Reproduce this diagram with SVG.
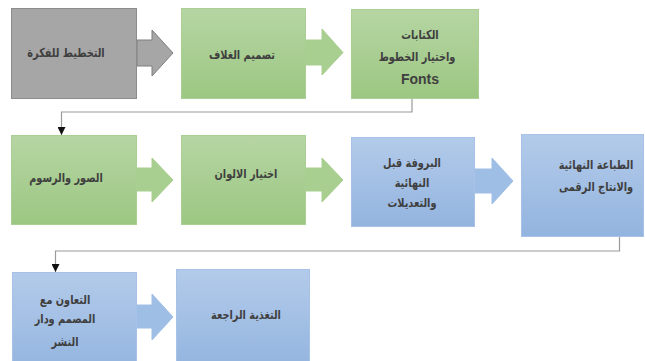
<svg xmlns="http://www.w3.org/2000/svg" width="645" height="361" viewBox="0 0 645 361">
<defs>
<linearGradient id="gGreen" x1="0" y1="0" x2="0" y2="1">
<stop offset="0" stop-color="#b6d5a3"/>
<stop offset="1" stop-color="#9cc782"/>
</linearGradient>
<linearGradient id="gBlue" x1="0" y1="0" x2="0" y2="1">
<stop offset="0" stop-color="#b3cbea"/>
<stop offset="1" stop-color="#93b4df"/>
</linearGradient>
<marker id="ah" viewBox="0 0 8 8" refX="8" refY="4" markerWidth="8" markerHeight="8" orient="auto" markerUnits="userSpaceOnUse">
<path d="M0,0 L8,4 L0,8 Z" fill="#111"/>
</marker>
<style>
.gray{fill:#a6a6a6;stroke:#8c8c8c;stroke-width:1}
.green{fill:url(#gGreen);stroke:#a9cf94;stroke-width:1}
.blue{fill:url(#gBlue);stroke:#a7c2e6;stroke-width:1}
.agray{fill:#a6a6a6;stroke:#7f7f7f;stroke-width:1}
.agreen{fill:#a8cf8f;stroke:#a8cf8f;stroke-width:1}
.ablue{fill:#9fbee6;stroke:#9fbee6;stroke-width:1}
.t{font-family:"DejaVu Sans",sans-serif;font-weight:bold;font-size:12.5px;fill:#3f3f3f;text-anchor:middle;direction:rtl}
.tl{font-family:"Liberation Sans",Arial,sans-serif;font-weight:bold;font-size:14px;fill:#3f3f3f;text-anchor:middle}
.c{fill:none;stroke:#9a9a9a;stroke-width:1.2}
</style>
</defs>

<g id="arrows">
<polygon class="agray" points="137,40 152,40 152,30 173,53 152,76 152,66 137,66"/>
<polygon class="agreen" points="306,40 322,40 322,29 343,52.5 322,75 322,65 306,65"/>
<polygon class="agreen" points="137,168 152,168 152,158 173,180 152,202 152,191 137,191"/>
<polygon class="agreen" points="306,168 322,168 322,158 343,180 322,202 322,191 306,191"/>
<polygon class="ablue" points="475,169 492,169 492,158 513,181 492,204 492,193 475,193"/>
<polygon class="ablue" points="137,305 152,305 152,294 173,317 152,340 152,328 137,328"/>
</g>

<g id="n1"><rect class="gray" x="11.5" y="8.5" width="125" height="90"/>
<text class="t" transform="matrix(0.78 0 0 1 66 57)">التخطيط للفكرة</text></g>

<g id="n2"><rect class="green" x="181.5" y="8.5" width="124" height="90"/>
<text class="t" transform="matrix(0.78 0 0 1 242 59)">تصميم الغلاف</text></g>

<g id="n3"><rect class="green" x="351.5" y="9.5" width="127" height="89"/>
<text class="t" transform="matrix(0.78 0 0 1 420 39)">الكتابات</text>
<text class="t" transform="matrix(0.78 0 0 1 417 61)">واختيار الخطوط</text>
<text class="tl" x="420" y="84">Fonts</text></g>

<g id="n4"><rect class="green" x="11.5" y="135.5" width="125" height="89"/>
<text class="t" transform="matrix(0.78 0 0 1 66 182)">الصور والرسوم</text></g>

<g id="n5"><rect class="green" x="181.5" y="135.5" width="124" height="89"/>
<text class="t" transform="matrix(0.78 0 0 1 246 178)">اختيار الالوان</text></g>

<g id="n6"><rect class="blue" x="351.5" y="137.5" width="123" height="89"/>
<text class="t" transform="matrix(0.78 0 0 1 412 167)">البروفة قبل</text>
<text class="t" transform="matrix(0.78 0 0 1 412 187)">النهائية</text>
<text class="t" transform="matrix(0.78 0 0 1 412 207)">والتعديلات</text></g>

<g id="n7"><rect class="blue" x="521.5" y="134.5" width="122" height="102"/>
<text class="t" transform="matrix(0.78 0 0 1 596 169)">الطباعة النهائية</text>
<text class="t" transform="matrix(0.78 0 0 1 596 191)">والانتاج الرقمى</text></g>

<g id="n8"><rect class="blue" x="12.5" y="272.5" width="124" height="100"/>
<text class="t" transform="matrix(0.78 0 0 1 65 304)">التعاون مع</text>
<text class="t" transform="matrix(0.78 0 0 1 65 323)">المصمم ودار</text>
<text class="t" transform="matrix(0.78 0 0 1 65 346)">النشر</text></g>

<g id="n9"><rect class="blue" x="176.5" y="269.5" width="133" height="100"/>
<text class="t" transform="matrix(0.78 0 0 1 246 319)">التغذية الراجعة</text></g>

<g id="connectors">
<polyline class="c" points="412,99 412,112 61.5,112 61.5,135" marker-end="url(#ah)"/>
<polyline class="c" points="619.5,237 619.5,251 55.5,251 55.5,272" marker-end="url(#ah)"/>
</g>
</svg>
